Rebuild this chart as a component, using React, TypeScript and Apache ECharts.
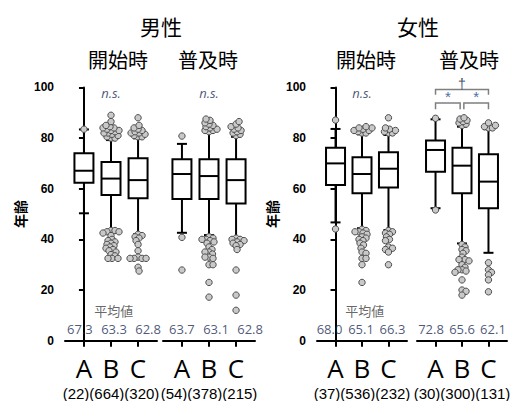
import React, { useEffect, useRef } from 'react';
import * as echarts from 'echarts';

// ---------- data ----------
const categories = ['A', 'B', 'C'];
const sexTitles = ['男性', '女性'];
const periodTitles = ['開始時', '普及時', '開始時', '普及時'];

const countsMaleStart = [22, 664, 320];
const countsMaleSpread = [54, 378, 215];
const countsFemaleStart = [37, 536, 232];
const countsFemaleSpread = [30, 300, 131];

const meansMaleStart = [67.3, 63.3, 62.8];
const meansMaleSpread = [63.7, 63.1, 62.8];
const meansFemaleStart = [68.0, 65.1, 66.3];
const meansFemaleSpread = [72.8, 65.6, 62.1];

// [min whisker, Q1, median, Q3, max whisker]
const boxMaleStart = [
  [50.3, 62.4, 67.1, 74.0, 83.4],
  [43.7, 57.5, 64.0, 70.5, 79.2],
  [42.0, 56.2, 63.4, 72.0, 79.9],
];
const boxMaleSpread = [
  [42.6, 55.9, 65.8, 71.6, 77.7],
  [41.7, 55.9, 65.0, 71.6, 82.3],
  [40.8, 54.2, 63.4, 71.6, 80.5],
];
const boxFemaleStart = [
  [46.7, 61.5, 70.0, 76.2, 83.6],
  [44.4, 58.2, 65.8, 72.4, 81.5],
  [43.7, 60.5, 67.9, 74.4, 81.2],
];
const boxFemaleSpread = [
  [52.3, 66.7, 75.3, 79.0, 87.4],
  [38.4, 58.2, 69.1, 76.2, 84.5],
  [34.7, 52.3, 62.8, 73.6, 83.5],
];

const outMaleStart = [
  [83.5],
  [89, 86.5, 85, 84.5, 84, 84, 83.5, 83, 83, 82.5, 82, 82, 81.5, 81, 80.5, 80, 80,
    43.5, 43.5, 43, 43, 42.5, 41.5, 40, 39.5, 39, 38.5, 38, 37.5, 37, 36.5, 36, 35.5, 35, 34, 33.5, 32.5, 32.5, 32.5],
  [88, 85, 84, 83.5, 83, 82.5, 82, 82, 81.5, 81, 80.5, 80.5,
    42, 41.5, 41, 40.5, 39.5, 38, 35.5, 33, 32.5, 32.5, 32.5, 32.5, 29, 27.5],
];
const outMaleSpread = [
  [80.8, 40.8, 27.9],
  [87.5, 87, 86, 85.5, 85, 84.5, 84, 83.5, 83, 83, 82.5,
    41, 40.5, 40, 40, 39.5, 39, 38.5, 37, 36, 35, 35, 34.2, 33, 33, 32.5, 30, 30, 23, 17.2],
  [86.5, 85.5, 84.5, 84, 83.5, 83, 82.5, 82, 81.5, 81,
    40.5, 40, 40, 39.5, 39, 38.5, 38, 37.5, 36, 27.9, 18, 12],
];
const outFemaleStart = [
  [87.1, 44.1],
  [84.5, 84, 84, 83.5, 83, 83, 82.5, 82, 82,
    44, 43.5, 43, 43, 42.5, 42, 41, 40.5, 40, 39.5, 38.5, 37.8, 36.5, 35, 34.5, 32.5, 32.5, 30, 23],
  [88, 84, 83.5, 83, 82.5, 82, 82,
    43.5, 43, 42.5, 42, 41, 40, 39.5, 37, 36.5, 36, 35, 30],
];
const outFemaleSpread = [
  [87.8, 51.6],
  [88, 87.5, 87, 86.5, 86, 85.5, 85,
    38, 37, 36, 35.5, 34.5, 33, 32, 32, 31.5, 30, 29, 28, 28, 27.5, 27, 24, 20, 19.5, 18],
  [86, 85, 84.5, 84, 84,
    30.8, 28, 27, 26, 24, 19.3],
];

const significance = ['n.s.', 'n.s.', 'n.s.', ''];
// female 普及時 comparisons: [from, to]
const bracketPairs = [[0, 2], [0, 1], [1, 2]];
const bracketMarks = ['†', '*', '*'];

const yTicks = [0, 20, 40, 60, 80, 100];
const meanHeading = '平均値';
const yName = '年齢';

// ---------- layout helpers ----------
const groupsBox = [boxMaleStart, boxMaleSpread, boxFemaleStart, boxFemaleSpread];
const groupsOut = [outMaleStart, outMaleSpread, outFemaleStart, outFemaleSpread];
const groupsMean = [meansMaleStart, meansMaleSpread, meansFemaleStart, meansFemaleSpread];
const groupsCount = [countsMaleStart, countsMaleSpread, countsFemaleStart, countsFemaleSpread];

const gridLefts = [65, 163, 317, 417];
const gridWidths = [92, 92, 90, 90];
const GRID_TOP = 87.4;
const GRID_H = 253.3;
// mean-label horizontal layout: extra spread per step, and overall shift (px)
const meanSpread = [7, 7, 5, 4.5];
const meanShift = [3, 7, -1, 0];

const DOT_R = 3.2;
const DOT_MIN = 3.9;

function swarm(vals: number[], cx: number, toY: (v: number) => number, anchorY: number) {
  const pts = vals.map((v) => ({ y: toY(v) }));
  pts.sort((a, b) => Math.abs(a.y - anchorY) - Math.abs(b.y - anchorY));
  const placed: { x: number; y: number }[] = [];
  for (const p of pts) {
    for (let k = 0; k < 400; k++) {
      const off = (k % 2 === 1 ? 1 : -1) * Math.ceil(k / 2) * 0.5;
      const x = cx + off;
      let ok = true;
      for (const q of placed) {
        const dx = q.x - x;
        const dy = q.y - p.y;
        if (dx * dx + dy * dy < DOT_MIN * DOT_MIN) { ok = false; break; }
      }
      if (ok) { placed.push({ x, y: p.y }); break; }
    }
  }
  return placed;
}

function buildOption() {
  const grid: any[] = [];
  const xAxis: any[] = [];
  const yAxis: any[] = [];
  const series: any[] = [];

  for (let g = 0; g < 4; g++) {
    grid.push({
      left: gridLefts[g], top: GRID_TOP, width: gridWidths[g], height: GRID_H,
      containLabel: false, outerBoundsMode: 'none',
    });
    xAxis.push({
      gridIndex: g,
      type: 'value',
      min: -0.7,
      max: 2.7,
      axisLine: { show: true, onZero: false, lineStyle: { color: '#000', width: 2 } },
      axisTick: { show: true, customValues: [0, 1, 2], length: 6, lineStyle: { color: '#000', width: 2 } },
      axisLabel: {
        show: true,
        customValues: [0, 1, 2],
        formatter: (v: number) => categories[Math.round(v)],
        fontSize: 26,
        color: '#000',
        margin: 14,
        fontFamily: 'Open Sans',
      },
      splitLine: { show: false },
      name: '(' + groupsCount[g].join(')(') + ')',
      nameLocation: 'middle',
      nameGap: 42,
      nameTextStyle: { fontSize: 15, lineHeight: 16, color: '#000', fontFamily: 'Liberation Sans' },
    });
    const showY = g === 0 || g === 2;
    yAxis.push({
      gridIndex: g,
      type: 'value',
      min: 0,
      max: 100,
      interval: 20,
      show: showY,
      axisLine: { show: true, lineStyle: { color: '#000', width: 2 } },
      axisTick: { show: true, length: 5, lineStyle: { color: '#000', width: 2 } },
      axisLabel: {
        fontSize: 12,
        fontWeight: 'bold',
        color: '#000',
        margin: 11,
        fontFamily: 'Liberation Sans',
        formatter: (v: number) => (yTicks.indexOf(v) >= 0 ? String(v) : ''),
      },
      splitLine: { show: false },
      name: showY ? yName : '',
      nameLocation: 'middle',
      nameGap: 38,
      nameRotate: 90,
      nameTextStyle: { fontSize: 14, fontWeight: 'bold', color: '#000', fontFamily: 'Noto Sans CJK JP' },
    });

    const boxes = groupsBox[g];
    const outs = groupsOut[g];

    // boxes
    series.push({
      type: 'custom',
      xAxisIndex: g,
      yAxisIndex: g,
      data: boxes.map((s, i) => [i, s[0], s[1], s[2], s[3], s[4]]),
      encode: { x: 0, y: [1, 2, 3, 4, 5] },
      renderItem: (params: any, api: any) => {
        const x = api.value(0);
        const pMin = api.coord([x, api.value(1)]);
        const pQ1 = api.coord([x, api.value(2)]);
        const pMed = api.coord([x, api.value(3)]);
        const pQ3 = api.coord([x, api.value(4)]);
        const pMax = api.coord([x, api.value(5)]);
        const cx = pMed[0];
        const hw = 9.5;
        const cap = 5;
        const st = { stroke: '#000', lineWidth: 2 };
        return {
          type: 'group',
          children: [
            { type: 'line', shape: { x1: cx, y1: pMax[1], x2: cx, y2: pQ3[1] }, style: st },
            { type: 'line', shape: { x1: cx, y1: pQ1[1], x2: cx, y2: pMin[1] }, style: st },
            { type: 'line', shape: { x1: cx - cap, y1: pMax[1], x2: cx + cap, y2: pMax[1] }, style: st },
            { type: 'line', shape: { x1: cx - cap, y1: pMin[1], x2: cx + cap, y2: pMin[1] }, style: st },
            { type: 'rect', shape: { x: cx - hw, y: pQ3[1], width: hw * 2, height: pQ1[1] - pQ3[1] }, style: { fill: '#fff', stroke: '#000', lineWidth: 2 } },
            { type: 'line', shape: { x1: cx - hw, y1: pMed[1], x2: cx + hw, y2: pMed[1] }, style: st },
          ],
        };
      },
      z: 2,
    });

    // outliers (beeswarm)
    series.push({
      type: 'custom',
      xAxisIndex: g,
      yAxisIndex: g,
      data: boxes.map((s, i) => [i, s[2]]),
      encode: { x: 0, y: 1 },
      renderItem: (params: any, api: any) => {
        const i = api.value(0);
        const anchor = api.coord([i, api.value(1)]);
        const vals = outs[i];
        const toY = (v: number) => api.coord([i, v])[1];
        const placed = swarm(vals, anchor[0], toY, anchor[1]);
        return {
          type: 'group',
          children: placed.map((p) => ({
            type: 'circle',
            shape: { cx: p.x, cy: p.y, r: DOT_R },
            style: { fill: '#c9c9c9', stroke: '#4d4d4d', lineWidth: 1 },
          })),
        };
      },
      z: 3,
    });

    // mean values
    series.push({
      type: 'scatter',
      xAxisIndex: g,
      yAxisIndex: g,
      symbolSize: 1,
      itemStyle: { color: 'rgba(0,0,0,0)' },
      data: groupsMean[g].map((m, i) => ({
        value: [i, 4.6, m],
        label: { offset: [(i - 1) * meanSpread[g] + meanShift[g], 0] },
      })),
      label: {
        show: true,
        position: 'inside',
        formatter: (p: any) => Number(p.value[2]).toFixed(1),
        color: '#1a2e55',
        fontSize: 13,
        fontFamily: 'Open Sans',
      },
      z: 4,
    });

    // heading & significance
    const ann: any[] = [];
    if (g === 0 || g === 2) ann.push({ value: [1.1, 11.8], name: meanHeading, kind: 'h' });
    if (significance[g]) ann.push({ value: [1, 97.6], name: significance[g], kind: 's' });
    if (ann.length) {
      series.push({
        type: 'scatter',
        xAxisIndex: g,
        yAxisIndex: g,
        symbolSize: 1,
        itemStyle: { color: 'rgba(0,0,0,0)' },
        data: ann.map((a) => ({
          value: a.value,
          name: a.name,
          label: a.kind === 'h'
            ? { color: '#404040', fontSize: 13, fontFamily: 'Noto Sans CJK JP', fontStyle: 'normal' }
            : { color: '#1a2e55', fontSize: 13, fontFamily: 'Open Sans', fontStyle: 'italic' },
        })),
        label: { show: true, position: 'inside', formatter: (p: any) => p.name },
        z: 4,
      });
    }

    if (g === 3) {
      series.push({
        type: 'custom',
        xAxisIndex: g,
        yAxisIndex: g,
        data: bracketPairs.map((b, k) => [b[0], b[1], k]),
        encode: { x: [0, 1] },
        renderItem: (params: any, api: any) => {
          const a = api.value(0);
          const b = api.value(1);
          const k = api.value(2);
          const top = k === 0;
          const level = top ? 99.2 : 93.8;
          const drop = top ? 2.1 : 2.4;
          const inset = 0.07;
          const xa = top ? a : (a === 1 ? a + inset : a);
          const xb = top ? b : (b === 1 ? b - inset : b);
          const p1 = api.coord([xa, level - drop]);
          const p2 = api.coord([xa, level]);
          const p3 = api.coord([xb, level]);
          const p4 = api.coord([xb, level - drop]);
          const mx = (p2[0] + p3[0]) / 2;
          return {
            type: 'group',
            children: [
              {
                type: 'polyline',
                shape: { points: [p1, p2, p3, p4] },
                style: { stroke: '#7f7f7f', lineWidth: 1.5, fill: 'none' },
              },
              {
                type: 'text',
                x: mx,
                y: top ? p2[1] + 2 : p2[1] + 1,
                style: {
                  text: bracketMarks[k],
                  align: 'center',
                  verticalAlign: 'bottom',
                  fill: top ? '#44546a' : '#4f6ea8',
                  font: top ? '14px "Liberation Sans"' : '15px "Liberation Sans"',
                },
              },
            ],
          };
        },
        z: 4,
      });
    }
  }

  const graphic: any[] = [
    { type: 'text', x: 161, y: 26, style: { text: sexTitles[0], font: '21px "Noto Sans CJK JP"', fill: '#000', align: 'center', verticalAlign: 'middle' } },
    { type: 'text', x: 418, y: 26, style: { text: sexTitles[1], font: '21px "Noto Sans CJK JP"', fill: '#000', align: 'center', verticalAlign: 'middle' } },
  ];
  const ptX = [118, 208, 366, 469];
  periodTitles.forEach((t, i) => {
    graphic.push({ type: 'text', x: ptX[i], y: 59, style: { text: t, font: '20px "Noto Sans CJK JP"', fill: '#000', align: 'center', verticalAlign: 'middle' } });
  });

  return {
    animation: false,
    backgroundColor: '#fff',
    grid,
    xAxis,
    yAxis,
    series,
    graphic,
  };
}

export default function App() {
  const ref = useRef<HTMLDivElement>(null);
  useEffect(() => {
    if (!ref.current) return;
    const chart = echarts.init(ref.current, null, { renderer: 'svg' });
    chart.setOption(buildOption() as any);
    return () => chart.dispose();
  }, []);
  return (
    <div
      ref={ref}
      style={{ position: 'fixed', left: 0, top: 0, width: 519, height: 401, background: '#fff' }}
    />
  );
}
